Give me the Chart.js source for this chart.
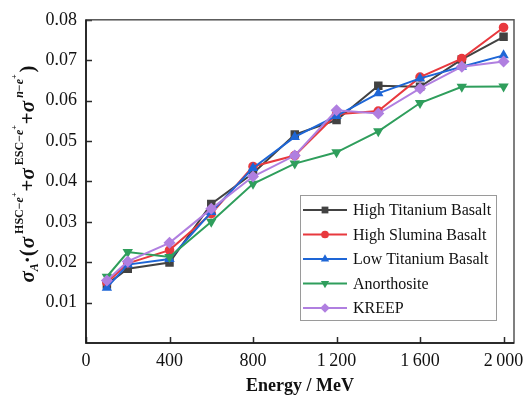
<!DOCTYPE html>
<html>
<head>
<meta charset="utf-8">
<script src="https://cdn.jsdelivr.net/npm/chart.js@4.4.1/dist/chart.umd.min.js"></script>
<style>
  html, body { margin: 0; padding: 0; background: #fff; }
  #wrap { width: 531px; height: 403px; position: relative; }
</style>
</head>
<body>
<div id="wrap"><canvas id="chart"></canvas></div>
<script>
// data
const energy = [100, 200, 400, 600, 800, 1000, 1200, 1400, 1600, 1800, 2000];
const highTitanium = [0.0145, 0.0184, 0.0199, 0.0344, 0.0420, 0.0516, 0.0552, 0.0637, 0.0634, 0.0702, 0.0758];
const highSlumina = [0.0150, 0.0197, 0.0230, 0.0320, 0.0437, 0.0464, 0.0566, 0.0574, 0.0658, 0.0704, 0.0781];
const lowTitanium = [0.0137, 0.0194, 0.0208, 0.0324, 0.0433, 0.0510, 0.0562, 0.0618, 0.0655, 0.0684, 0.0712];
const anorthosite = [0.0164, 0.0225, 0.0213, 0.0300, 0.0394, 0.0444, 0.0472, 0.0524, 0.0594, 0.0634, 0.0635];
const kreep = [0.0155, 0.0202, 0.0248, 0.0332, 0.0412, 0.0464, 0.0576, 0.0568, 0.0630, 0.0684, 0.0697];
const seriesNames = ['High Titanium Basalt', 'High Slumina Basalt', 'Low Titanium Basalt', 'Anorthosite', 'KREEP'];
const xTicks = [0, 400, 800, 1200, 1600, 2000];
const yTicks = [0.01, 0.02, 0.03, 0.04, 0.05, 0.06, 0.07, 0.08];

const serif = "'Liberation Serif', 'Times New Roman', serif";

function pts(ys) {
    return energy.map((x, i) => ({ x: x, y: ys[i] }));
}

const styles = [
    { color: '#424242', pointStyle: 'rect', radius: 6, rotation: 0 },
    { color: '#e8393e', pointStyle: 'circle', radius: 4.8, rotation: 0 },
    { color: '#1e66d6', pointStyle: 'triangle', radius: 6, rotation: 0 },
    { color: '#2f9e5c', pointStyle: 'triangle', radius: 6, rotation: 180 },
    { color: '#b07fe0', pointStyle: 'rectRot', radius: 6, rotation: 0 }
];
const allSeries = [highTitanium, highSlumina, lowTitanium, anorthosite, kreep];

const datasets = allSeries.map((ys, i) => ({
    label: seriesNames[i],
    data: pts(ys),
    borderColor: styles[i].color,
    backgroundColor: styles[i].color,
    borderWidth: 2,
    pointStyle: styles[i].pointStyle,
    pointRadius: styles[i].radius,
    pointRotation: styles[i].rotation,
    pointBorderWidth: 0,
    order: 4 - i // later series on top, like the original
}));

// frame + inward ticks
const framePlugin = {
    id: 'frame',
    afterDatasetsDraw(chart) {
        const { ctx, chartArea: a, scales } = chart;
        ctx.save();
        ctx.strokeStyle = '#2a2a2a';
        ctx.lineWidth = 1.5;
        ctx.beginPath();
        yTicks.forEach(v => {
            const y = Math.round(scales.y.getPixelForValue(v)) + 0.5;
            ctx.moveTo(a.left, y);
            ctx.lineTo(a.left + 6, y);
        });
        xTicks.forEach(v => {
            const x = Math.round(scales.x.getPixelForValue(v)) + 0.5;
            ctx.moveTo(x, a.bottom);
            ctx.lineTo(x, a.bottom - 6);
        });
        ctx.stroke();
        ctx.strokeStyle = '#555';
        ctx.strokeRect(a.left, a.top, a.right - a.left, a.bottom - a.top);
        ctx.strokeStyle = '#111';
        ctx.beginPath();
        ctx.moveTo(a.left, a.top);
        ctx.lineTo(a.left, a.bottom);
        ctx.lineTo(a.right, a.bottom);
        ctx.stroke();
        ctx.restore();
    }
};

// legend box inside the plot, bottom right
const legendPlugin = {
    id: 'boxLegend',
    afterDraw(chart) {
        const { ctx, chartArea: a } = chart;
        const left = a.right - 214, top = 195, w = 196, h = 125;
        ctx.save();
        ctx.fillStyle = '#fff';
        ctx.fillRect(left, top, w, h);
        ctx.strokeStyle = '#9a9a9a';
        ctx.lineWidth = 1;
        ctx.strokeRect(left + 0.5, top + 0.5, w, h);
        chart.data.datasets.forEach((ds, i) => {
            const y = top + 15 + i * 24.5;
            ctx.strokeStyle = ds.borderColor;
            ctx.lineWidth = 2;
            ctx.beginPath();
            ctx.moveTo(left + 3, y);
            ctx.lineTo(left + 47, y);
            ctx.stroke();
            ctx.fillStyle = ds.backgroundColor;
            Chart.helpers.drawPoint(ctx, {
                pointStyle: ds.pointStyle,
                radius: ds.pointRadius * 0.8,
                rotation: ds.pointRotation,
                borderWidth: 0
            }, left + 25, y);
            ctx.fillStyle = '#111';
            ctx.font = '16px ' + serif;
            ctx.textBaseline = 'middle';
            ctx.textAlign = 'left';
            ctx.fillText(ds.label, left + 53, y + 1);
        });
        ctx.restore();
    }
};

// rotated y title with sub/superscripts
const yTitlePlugin = {
    id: 'yTitle',
    afterDraw(chart) {
        const { ctx } = chart;
        const big = 'bold italic 21px ' + serif;
        const bigUp = 'bold 21px ' + serif;
        const sup = 'bold 12px ' + serif;
        const supIt = 'bold italic 12px ' + serif;
        const tiny = 'bold 8px ' + serif;
        const parts = [
            { t: 'σ', f: big, dy: 0 },
            { t: 'A', f: supIt, dy: 4 },
            { t: '·(', f: bigUp, dy: 0, gap: 1 },
            { t: 'σ', f: big, dy: 0, gap: 3 },
            { t: 'HSC−', f: sup, dy: -11 },
            { t: 'e', f: supIt, dy: -11 },
            { t: '+', f: tiny, dy: -17, gap: 1 },
            { t: '+', f: bigUp, dy: 0 },
            { t: 'σ', f: big, dy: 0, gap: 3 },
            { t: 'ESC−', f: sup, dy: -11 },
            { t: 'e', f: supIt, dy: -11 },
            { t: '+', f: tiny, dy: -17, gap: 1 },
            { t: '+', f: bigUp, dy: 0 },
            { t: 'σ', f: big, dy: 0, gap: 3 },
            { t: 'n', f: supIt, dy: -11 },
            { t: '−', f: sup, dy: -11 },
            { t: 'e', f: supIt, dy: -11 },
            { t: '+', f: tiny, dy: -17, gap: 2 },
            { t: ')', f: bigUp, dy: 0 }
        ];
        ctx.save();
        let total = 0;
        parts.forEach(p => {
            ctx.font = p.f;
            p.w = ctx.measureText(p.t).width + (p.gap || 0);
            total += p.w;
        });
        const cy = 174;
        ctx.translate(34, cy + total / 2);
        ctx.rotate(-Math.PI / 2);
        ctx.fillStyle = '#111';
        ctx.textBaseline = 'alphabetic';
        ctx.textAlign = 'left';
        let x = 0;
        parts.forEach(p => {
            ctx.font = p.f;
            ctx.fillText(p.t, x, p.dy);
            x += p.w;
        });
        ctx.restore();
    }
};

new Chart(document.getElementById('chart'), {
    type: 'line',
    data: { datasets: datasets },
    options: {
        responsive: true,
        maintainAspectRatio: false,
        animation: false,
        layout: { padding: { top: 10, right: 17, left: 0, bottom: 0 } },
        plugins: {
            legend: { display: false },
            tooltip: { enabled: false }
        },
        scales: {
            x: {
                type: 'linear',
                min: 0,
                max: 2050,
                afterBuildTicks: s => { s.ticks = xTicks.map(v => ({ value: v })); },
                afterFit: s => { s.height = 60; },
                grid: { display: false, drawTicks: false },
                border: { display: false },
                ticks: {
                    color: '#111',
                    padding: 7,
                    maxRotation: 0,
                    font: { family: serif, size: 18 },
                    callback: v => v >= 1000 ? String(v).replace(/(\d)(\d{3})$/, '$1\u2009$2') : String(v)
                },
                title: {
                    display: true,
                    text: 'Energy / MeV',
                    color: '#111',
                    font: { family: serif, size: 18, weight: 'bold' },
                    padding: { top: 0, bottom: 6 }
                }
            },
            y: {
                min: 0,
                max: 0.08,
                afterBuildTicks: s => { s.ticks = [0].concat(yTicks).map(v => ({ value: v })); },
                afterFit: s => { s.width = 86; },
                grid: { display: false, drawTicks: false },
                border: { display: false },
                ticks: {
                    color: '#111',
                    padding: 9,
                    font: { family: serif, size: 18 },
                    callback: v => v === 0 ? '' : v.toFixed(2)
                }
            }
        }
    },
    plugins: [framePlugin, legendPlugin, yTitlePlugin]
});
</script>
</body>
</html>
